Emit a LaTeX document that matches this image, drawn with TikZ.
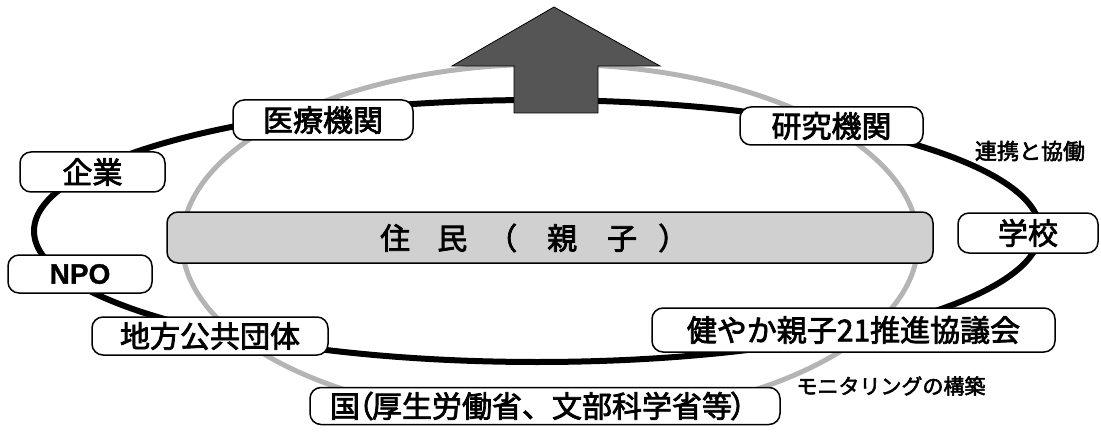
\documentclass[tikz,border=0pt]{standalone}
\usepackage{fontspec}
\newfontfamily\jp[FakeBold=2.5]{Noto Sans CJK JP}
\newfontfamily\lat[FakeBold=1.2]{Liberation Sans Bold}
\definecolor{ringgray}{HTML}{B4B4B4}
\definecolor{arrowgray}{HTML}{555555}
\definecolor{residentgray}{HTML}{D0D0D0}
\begin{document}
\begin{tikzpicture}[x=1pt,y=-1pt,
  box/.style={draw=black, line width=1.5pt, fill=white, rounded corners=11pt,
    inner sep=0pt, font=\jp\fontsize{30}{30}\selectfont},
  smalllabel/.style={inner sep=0pt, font=\jp\fontsize{21}{21}\selectfont}]
\useasboundingbox (0,0) rectangle (1101,433);
% rings
\draw[ringgray, line width=5pt] (550,242) ellipse [x radius=368pt, y radius=178pt];
\draw[black, line width=6pt] (537,231) ellipse [x radius=503pt, y radius=131pt];
% arrow
\draw[fill=arrowgray, line width=0.8pt, line join=miter]
  (554,7) -- (660,66) -- (598,66) -- (598,113) -- (514,113) -- (514,66) -- (452,66) -- cycle;
% resident box
\node[box, fill=residentgray, minimum width=766pt, minimum height=51pt] (jumin) at (550,237.5) {};
\node[inner sep=0pt, anchor=west, font=\jp\fontsize{30}{30}\selectfont] (jumintext) at (380,238)
  {住\hspace{27pt}民\hspace{20pt}（\hspace{30pt}親\hspace{30pt}子\hspace{21pt}）};
% partner boxes
\node[box, minimum width=180pt, minimum height=40pt] (iryo) at (323,120) {医療機関};
\node[box, minimum width=183pt, minimum height=38pt] (kenkyu) at (831.5,126) {研究機関};
\node[box, minimum width=145pt, minimum height=40pt] (kigyo) at (92.5,172) {企業};
\node[box, minimum width=140pt, minimum height=40pt] (gakko) at (1028,233) {学校};
\node[box, minimum width=144pt, minimum height=38pt, font=\lat\fontsize{28}{28}\selectfont] (npo) at (80,274) {NPO};
\node[box, minimum width=236pt, minimum height=38pt] (chiho) at (210,336) {地方公共団体};
\node[box, minimum width=403pt, minimum height=44pt] (sukoyaka) at (853.5,330) {健やか親子21推進協議会};
\node[box, minimum width=470pt, minimum height=37pt] (kuni) at (545,406)
  {国\kern-16pt（\kern-2pt厚生労働省、文部科学省等\kern-2pt）};
% labels
\node[smalllabel, font=\jp\fontsize{22}{22}\selectfont] (renkei) at (1030,151) {連携と協働};
\node[smalllabel] (monitor) at (891,386) {モニタリングの構築};
\end{tikzpicture}
\end{document}
